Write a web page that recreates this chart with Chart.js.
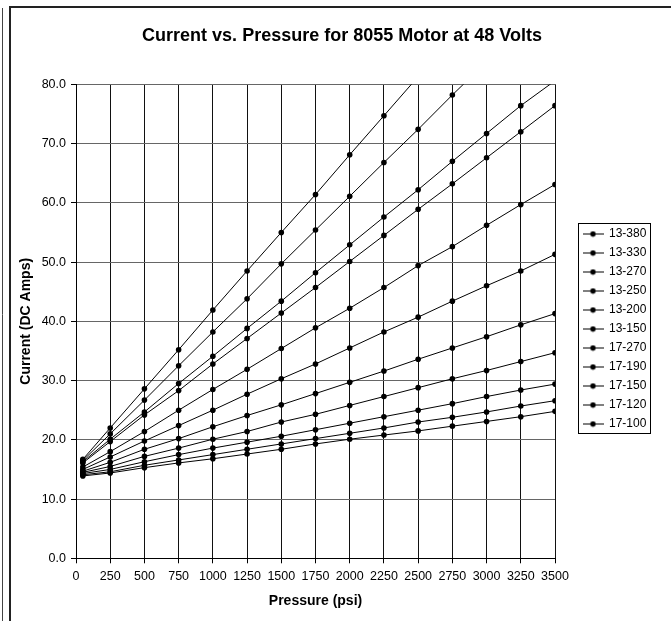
<!DOCTYPE html>
<html>
<head>
<meta charset="utf-8">
<title>Current vs. Pressure for 8055 Motor at 48 Volts</title>
<script src="https://cdn.jsdelivr.net/npm/chart.js@4.4.1/dist/chart.umd.min.js"></script>
<style>
    html, body { margin: 0; padding: 0; background: #fff; overflow: hidden; }
    #wrap { position: relative; width: 671px; height: 621px; }
</style>
</head>
<body>
<div id="wrap"><canvas id="grafico"></canvas></div>
<script>
// pressure (psi) where each reading was taken
const pressao = [50, 250, 500, 750, 1000, 1250, 1500, 1750, 2000, 2250, 2500, 2750, 3000, 3250, 3500];

const motores = ['13-380', '13-330', '13-270', '13-250', '13-200', '13-150',
                 '17-270', '17-190', '17-150', '17-120', '17-100'];

// current (DC amps)
const m13_380 = [16.7, 22.0, 28.6, 35.2, 41.9, 48.5, 55.0, 61.4, 68.1, 74.7, 81.3];
const m13_330 = [16.5, 21.0, 26.7, 32.5, 38.2, 43.8, 49.7, 55.4, 61.1, 66.8, 72.4, 78.2, 83.8];
const m13_270 = [16.3, 20.1, 24.7, 29.5, 34.1, 38.8, 43.4, 48.2, 52.9, 57.6, 62.2, 67.0, 71.7, 76.4, 80.6];
const m13_250 = [16.1, 19.7, 24.2, 28.3, 32.8, 37.1, 41.4, 45.7, 50.1, 54.5, 58.9, 63.2, 67.6, 72.0, 76.4];
const m13_200 = [15.4, 18.0, 21.4, 25.0, 28.5, 31.9, 35.4, 38.9, 42.2, 45.7, 49.4, 52.6, 56.2, 59.7, 63.1];
const m13_150 = [15.0, 17.1, 19.8, 22.4, 25.0, 27.7, 30.3, 32.8, 35.5, 38.2, 40.7, 43.4, 46.0, 48.5, 51.3];
const m17_270 = [14.7, 16.2, 18.4, 20.2, 22.2, 24.1, 25.9, 27.8, 29.7, 31.6, 33.6, 35.5, 37.4, 39.4, 41.3];
const m17_190 = [14.5, 15.5, 17.2, 18.6, 20.1, 21.4, 23.0, 24.3, 25.8, 27.3, 28.8, 30.3, 31.7, 33.2, 34.7];
const m17_150 = [14.3, 15.0, 16.3, 17.5, 18.6, 19.6, 20.6, 21.7, 22.8, 23.9, 25.0, 26.1, 27.3, 28.4, 29.4];
const m17_120 = [14.1, 14.6, 15.7, 16.6, 17.5, 18.4, 19.3, 20.2, 21.1, 22.0, 23.0, 23.8, 24.7, 25.7, 26.6];
const m17_100 = [13.9, 14.4, 15.3, 16.1, 16.8, 17.6, 18.4, 19.3, 20.1, 20.8, 21.5, 22.3, 23.1, 23.9, 24.8];

const correntes = [m13_380, m13_330, m13_270, m13_250, m13_200, m13_150,
                   m17_270, m17_190, m17_150, m17_120, m17_100];

const FONTE = "'Liberation Sans', Arial, sans-serif";
Chart.defaults.font.family = FONTE;
Chart.defaults.color = '#000';

// little line-with-dot symbol for the legend
function marcadorLegenda() {
    const c = document.createElement('canvas');
    c.width = 21;
    c.height = 7;
    const g = c.getContext('2d');
    g.strokeStyle = '#000';
    g.lineWidth = 1;
    g.beginPath();
    g.moveTo(0, 3.5);
    g.lineTo(21, 3.5);
    g.stroke();
    g.fillStyle = '#000';
    g.beginPath();
    g.arc(10.5, 3.5, 2.7, 0, Math.PI * 2);
    g.fill();
    return c;
}
const marcador = marcadorLegenda();

// frame round the sheet + legend box placement
const moldura = {
    id: 'moldura',
    beforeLayout(chart) {
        const lg = chart.legend;
        if (lg && !lg._larguraFixa) {
            const fitOriginal = lg.fit;
            lg.fit = function () {
                fitOriginal.call(this);
                this.width = 116;
            };
            lg._larguraFixa = true;
        }
    },
    afterUpdate(chart) {
        const lg = chart.legend;
        lg.left = 576;
        lg.right = 654;
        lg.top = 221;
        lg.bottom = 437;
        lg.width = 78;
        lg.height = 216;
        lg.adjustHitBoxes();
    },
    beforeDraw(chart) {
        const ctx = chart.ctx;
        ctx.save();
        ctx.fillStyle = '#fff';
        ctx.fillRect(0, 0, chart.width, chart.height);
        ctx.strokeStyle = '#222';
        ctx.lineWidth = 2;
        ctx.beginPath();
        ctx.moveTo(10, chart.height);
        ctx.lineTo(10, 7);
        ctx.lineTo(chart.width, 7);
        ctx.stroke();
        ctx.lineWidth = 1;
        ctx.strokeStyle = '#444';
        ctx.beginPath();
        ctx.moveTo(2.5, 8);
        ctx.lineTo(2.5, chart.height);
        ctx.stroke();
        ctx.restore();
    },
    afterDraw(chart) {
        const ctx = chart.ctx;
        ctx.save();
        ctx.strokeStyle = '#000';
        ctx.lineWidth = 1;
        ctx.strokeRect(578.5, 223.5, 72, 210);
        ctx.restore();
    }
};

function carregarGrafico() {
    const grafico = document.getElementById('grafico');

    const datasets = motores.map((nome, i) => ({
        label: nome,
        data: correntes[i].map((v, j) => ({ x: pressao[j], y: v })),
        borderColor: '#000',
        backgroundColor: '#000',
        borderWidth: 1,
        pointRadius: 2.8,
        pointBorderWidth: 0,
        pointBackgroundColor: '#000',
        tension: 0
    }));

    new Chart(grafico, {
        type: 'line',
        data: { datasets },
        options: {
            responsive: true,
            maintainAspectRatio: false,
            animation: false,
            layout: {
                padding: { left: 13, right: 0, top: 0, bottom: 0 }
            },
            plugins: {
                title: {
                    display: true,
                    text: 'Current vs. Pressure for 8055 Motor at 48 Volts',
                    color: '#000',
                    font: { size: 18, weight: 'bold' },
                    padding: { top: 25, bottom: 37.7 }
                },
                legend: {
                    position: 'right',
                    align: 'start',
                    labels: {
                        color: '#000',
                        font: { size: 12 },
                        usePointStyle: true,
                        pointStyleWidth: 20,
                        padding: 7,
                        generateLabels: (chart) => {
                            const itens = Chart.defaults.plugins.legend.labels.generateLabels(chart);
                            itens.forEach(item => { item.pointStyle = marcador; });
                            return itens;
                        }
                    }
                },
                tooltip: { enabled: false }
            },
            scales: {
                x: {
                    type: 'linear',
                    min: 0,
                    max: 3500,
                    afterFit: (s) => { s.height = 62.7; },
                    ticks: {
                        stepSize: 250,
                        autoSkip: false,
                        maxTicksLimit: 50,
                        color: '#000',
                        padding: 6,
                        maxRotation: 0,
                        font: { size: 12.5 },
                        callback: (v) => String(v)
                    },
                    grid: {
                        color: '#111',
                        tickColor: '#000',
                        tickLength: 5
                    },
                    border: { color: '#000', width: 1 },
                    title: {
                        display: true,
                        text: 'Pressure (psi)',
                        color: '#000',
                        font: { size: 14, weight: 'bold' },
                        padding: { top: 4, bottom: 11.6 }
                    }
                },
                y: {
                    min: 0,
                    max: 80,
                    afterFit: (s) => { s.width = 63; },
                    ticks: {
                        stepSize: 10,
                        color: '#000',
                        padding: 5,
                        font: { size: 12.5 },
                        callback: (v) => Number(v).toFixed(1)
                    },
                    grid: {
                        color: '#666',
                        tickColor: '#000',
                        tickLength: 5
                    },
                    border: { color: '#000', width: 1 },
                    title: {
                        display: true,
                        text: 'Current (DC Amps)',
                        color: '#000',
                        font: { size: 14, weight: 'bold' },
                        padding: { top: 4.6, bottom: 0 }
                    }
                }
            }
        },
        plugins: [moldura]
    });
}

carregarGrafico();
</script>
</body>
</html>
